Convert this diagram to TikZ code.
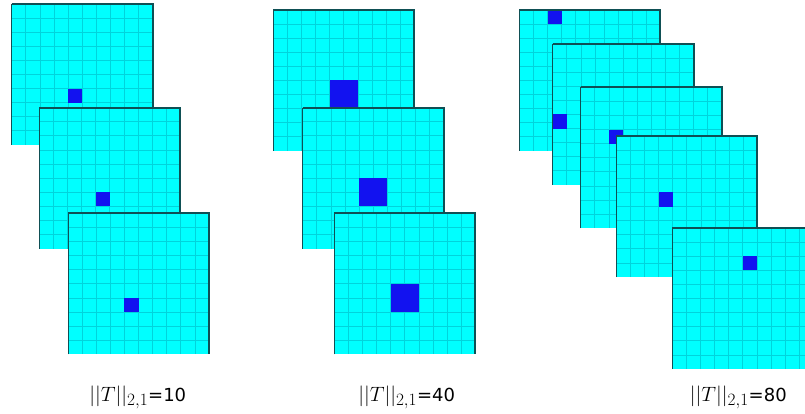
\documentclass[tikz,border=0pt]{standalone}
\usepackage{amsmath}
\usepackage{fontspec}
\setmainfont{DejaVu Sans}
\DeclareMathSizes{18}{21}{16}{12}
\usepackage{tikz}
\definecolor{cellcyan}{RGB}{0,255,255}
\definecolor{markblue}{RGB}{18,18,240}
\definecolor{framedark}{RGB}{15,80,85}
\definecolor{gridteal}{RGB}{0,212,220}
% one 10x10 sheet: x, y (top left), column, row, size of the marked block
\newcommand{\gridsheet}[5]{%
  \fill[cellcyan] (#1,#2) rectangle ++(141,141);
  \foreach \k in {1,...,9}{
    \draw[gridln] (#1+\k*14.1,#2) -- ++(0,141);
    \draw[gridln] (#1,#2+\k*14.1) -- ++(141,0);
  }
  \fill[markblue] (#1+#3*14.1,#2+#4*14.1) rectangle ++(#5*14.1,#5*14.1);
  \draw[framedark,line width=0.8] (#1,#2+141) -- (#1,#2);
  \draw[framedark,line width=1.8] (#1,#2) -- (#1+141,#2) -- (#1+141,#2+141);
}

\begin{document}
\begin{tikzpicture}[x=1pt,y=-1pt,
    gridln/.style={gridteal,line width=0.8},
    normlbl/.style={anchor=base,font=\fontsize{18}{20}\selectfont}]
    \useasboundingbox (0,0) rectangle (805,414);
    \clip (0,0) rectangle (805,414);
    % first stack
    \gridsheet{11.7}{4}{4}{6}{1}
    \gridsheet{39.3}{107.7}{4}{6}{1}
    \gridsheet{68}{213.3}{4}{6}{1}
    % second stack
    \gridsheet{273.3}{10}{4}{5}{2}
    \gridsheet{302.7}{107.7}{4}{5}{2}
    \gridsheet{334.3}{213.3}{4}{5}{2}
    % third stack
    \gridsheet{519.3}{10}{2}{0}{1}
    \gridsheet{552.7}{44}{0}{5}{1}
    \gridsheet{580.7}{87.3}{2}{3}{1}
    \gridsheet{616.3}{136}{3}{4}{1}
    \gridsheet{672.3}{228}{5}{2}{1}
    \node[normlbl] (lblA) at (137.8,401.7) {$||T||_{2,1}$=10};
    \node[normlbl] (lblB) at (406.7,401.7) {$||T||_{2,1}$=40};
    \node[normlbl] (lblC) at (738.3,401.7) {$||T||_{2,1}$=80};
\end{tikzpicture}
\end{document}
